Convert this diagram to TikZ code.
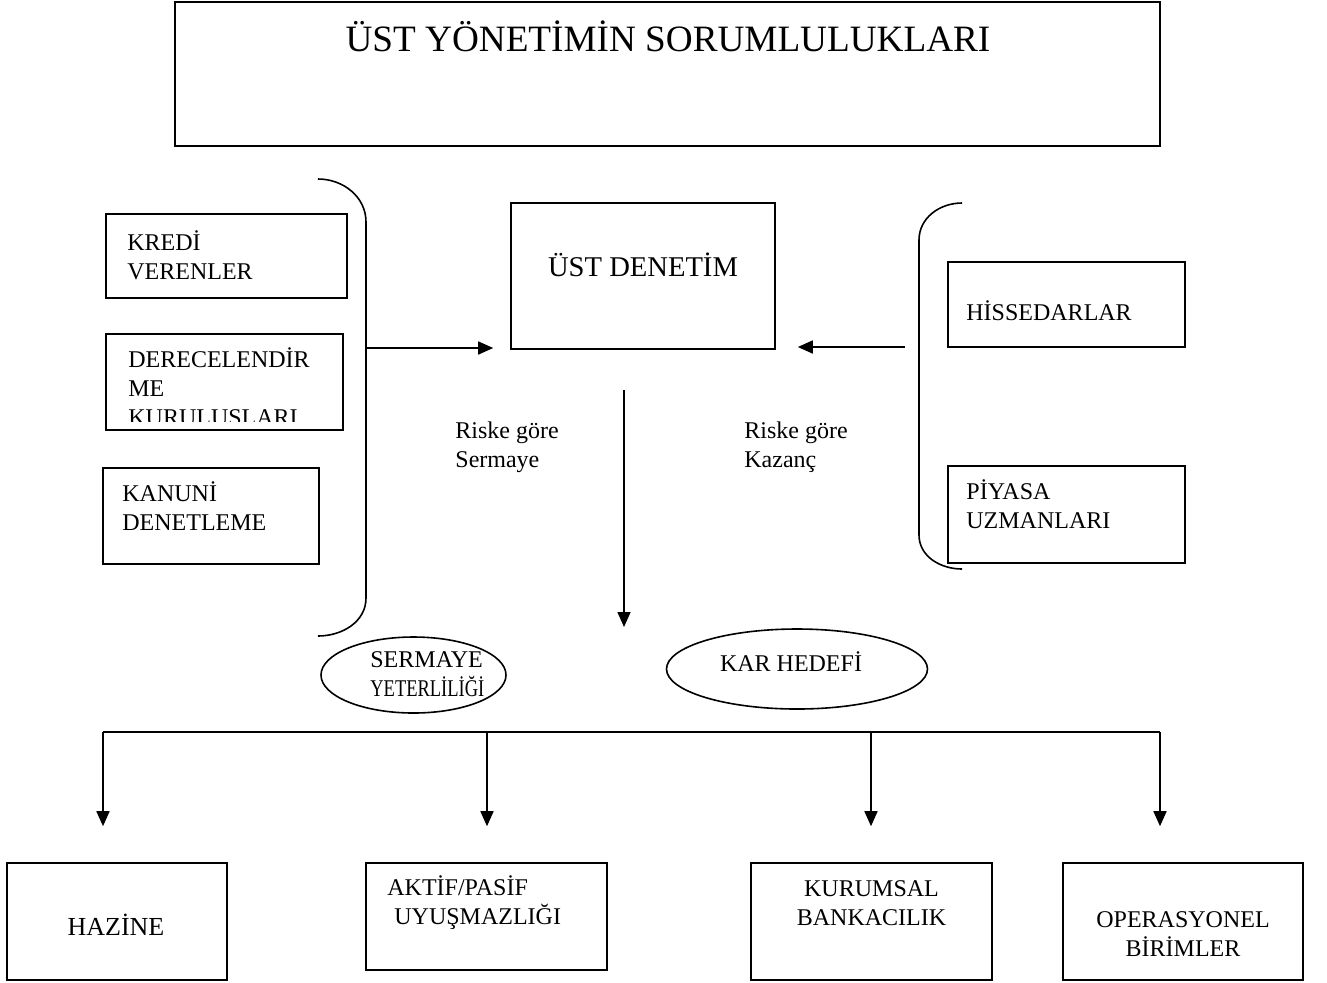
\documentclass[tikz,border=0pt]{standalone}
\usepackage{fontspec}
\setmainfont{Liberation Serif}
\usetikzlibrary{arrows.meta,positioning,shapes.geometric}
\tikzset{
kutu/.style={
  draw,
  rectangle,
  line width=0.8pt,
  inner sep=0pt,
},
oval/.style={
  draw,
  ellipse,
  line width=0.8pt,
  inner sep=0pt,
},
yazi/.style={
  inner sep=0pt,
  align=left,
  font=\fontsize{12pt}{14.5pt}\selectfont,
},
pil/.style={
  -{Triangle[length=7.5pt,width=6.5pt]},
  line width=0.8pt,
},
ayrac/.style={line width=0.8pt},
}

\begin{document}
\begin{tikzpicture}[x=0.5pt,y=-0.5pt]
\useasboundingbox (0,0) rectangle (1327,982);

\node[kutu, minimum width=492.5pt, minimum height=72pt] (ust) at (667.5,74) {};
\node[yazi, font=\fontsize{18.6pt}{21pt}\selectfont] (tust) at (668,36) {ÜST YÖNETİMİN SORUMLULUKLARI};

% sol taraf
\node[kutu, minimum width=120.5pt, minimum height=42pt] (kredi) at (226.5,256) {};
\node[kutu, minimum width=118.5pt, minimum height=48pt] (derece) at (224.5,382) {};
\node[kutu, minimum width=108pt, minimum height=48pt] (kanuni) at (211,516) {};
\node[yazi, anchor=west] (tkredi) at (127,255) {KREDİ\\VERENLER};
\begin{scope}
\clip (106,334) rectangle (343,421);
\node[yazi, anchor=west] (tderece) at (128,389) {DERECELENDİR\\ME\\KURULUŞLARI};
\end{scope}
\node[yazi, anchor=west] (tkanuni) at (122,506) {KANUNİ\\DENETLEME};

% orta
\node[kutu, minimum width=132pt, minimum height=73pt] (ustden) at (643,276) {};
\node[yazi, font=\fontsize{14.3pt}{16pt}\selectfont] (tustden) at (643,265) {ÜST DENETİM};
\node[yazi, anchor=west] (risk1) at (455,447) {Riske göre\\Sermaye};
\node[yazi, anchor=west] (risk2) at (744,447) {Riske göre\\Kazanç};

% sag taraf
\node[kutu, minimum width=118.5pt, minimum height=42.5pt] (hisse) at (1066.5,304.5) {};
\node[kutu, minimum width=118.5pt, minimum height=48.5pt] (piyasa) at (1066.5,514.5) {};
\node[yazi, anchor=west] (thisse) at (966,311) {HİSSEDARLAR};
\node[yazi, anchor=west] (tpiyasa) at (966,504) {PİYASA\\UZMANLARI};

% hedefler
\node[oval, minimum width=92.5pt, minimum height=38pt] (sermaye) at (413.5,675) {};
\node[oval, minimum width=130.5pt, minimum height=40pt] (kar) at (797,669) {};
\node[yazi, anchor=west] (tsermaye) at (370,674) {SERMAYE\\\scalebox{0.77}[1]{YETERLİLİĞİ}};
\node[yazi] (tkar) at (791,662) {KAR HEDEFİ};

% birimler
\node[kutu, minimum width=110pt, minimum height=58.5pt] (hazine) at (117,921.5) {};
\node[kutu, minimum width=120.5pt, minimum height=53.5pt] (aktif) at (486.5,916.5) {};
\node[kutu, minimum width=120.5pt, minimum height=58.5pt] (kurumsal) at (871.5,921.5) {};
\node[kutu, minimum width=120pt, minimum height=58.5pt] (opera) at (1183,921.5) {};
\node[yazi, font=\fontsize{13pt}{15pt}\selectfont] (thazine) at (116,925) {HAZİNE};
\node[yazi, anchor=west] (taktif) at (387,903) {AKTİF/PASİF\\\hspace*{3.5pt}UYUŞMAZLIĞI};
\node[yazi, align=center] (tkurumsal) at (871.5,903) {KURUMSAL\\BANKACILIK};
\node[yazi, align=center] (topera) at (1183,934) {OPERASYONEL\\BİRİMLER};

% parantezler
\coordinate (sol1) at (318,179);
\coordinate (sol2) at (318,636);
\coordinate (sag1) at (962,203);
\coordinate (sag2) at (962,569);
\draw[ayrac] (sol1) to[out=0,in=90] (366,222) -- (366,598) to[out=-90,in=0] (sol2);
\draw[ayrac] (sag1) to[out=180,in=90] (919,240) -- (919,535) to[out=-90,in=180] (sag2);

% oklar
\coordinate (solok) at (366,348);
\coordinate (sagok) at (905,347);
\draw[pil, shorten >=8.5pt] (solok) -- (solok -| ustden.west);
\draw[pil, shorten >=11pt] (sagok) -- (sagok -| ustden.east);
\coordinate (asagi1) at (624,390);
\coordinate (asagi2) at (624,627);
\draw[pil] (asagi1) -- (asagi2);

\coordinate (d1) at (103,732);
\coordinate (d2) at (487,732);
\coordinate (d3) at (871,732);
\coordinate (d4) at (1160,732);
\draw[ayrac] (d1) -- (d4);
\foreach \i/\k in {1/hazine,2/aktif,3/kurumsal,4/opera}
  \draw[pil, shorten >=18pt] (d\i) -- (d\i |- \k.north);
\end{tikzpicture}
\end{document}
